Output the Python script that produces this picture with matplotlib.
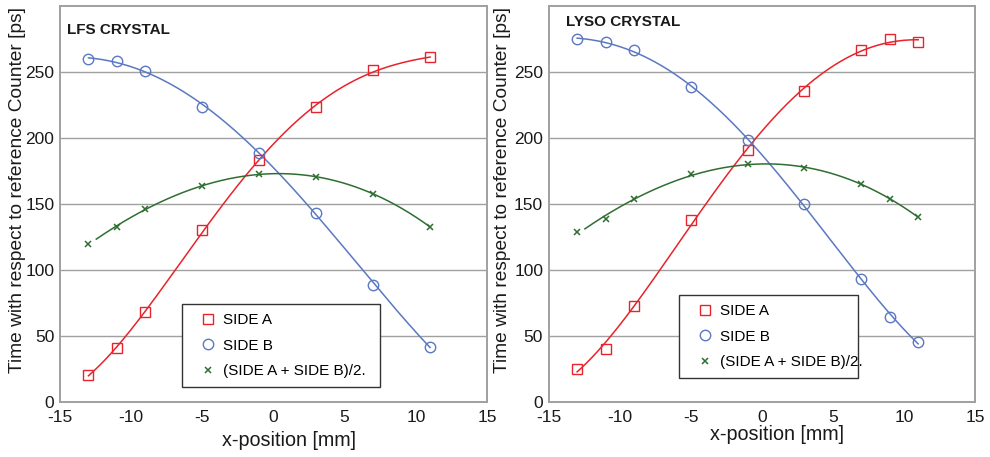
import numpy as np
import matplotlib
matplotlib.use("Agg")
import matplotlib.pyplot as plt
from matplotlib.lines import Line2D

plt.rcParams['font.family'] = ['Liberation Sans', 'DejaVu Sans']
plt.rcParams['axes.unicode_minus'] = False

# Measured arrival times [ps] versus beam position [mm]
lfs_x = [-13, -11, -9, -5, -1, 3, 7, 11]
lfs_side_a = [20.5, 41, 68.5, 130, 183.5, 223.7, 251.2, 261]
lfs_side_b = [260, 258, 251, 223.2, 189, 143.4, 89, 41.7]
lfs_mean = [119.7, 132.8, 146, 163.9, 172.7, 170.7, 157.3, 132.8]

lyso_x = [-13, -11, -9, -5, -1, 3, 7, 9, 11]
lyso_side_a = [25.3, 40.4, 73, 137.9, 190.9, 235.4, 266.7, 275.2, 272.7]
lyso_side_b = [275.2, 272.5, 266.4, 238.4, 198.5, 150, 93.4, 64.6, 45.2]
lyso_mean = [128.8, 138.4, 153.8, 172.7, 180.3, 177, 165.2, 153.5, 140.4]

x_ticks = [-15, -10, -5, 0, 5, 10, 15]
y_ticks = [0, 50, 100, 150, 200, 250]

RED = '#e8232b'
BLUE = '#5b78c2'
GREEN = '#2f6e31'
SPINE = '#a0a0a0'

W, H = 990, 457
fig = plt.figure(figsize=(W / 100, H / 100), dpi=100)


def add_panel(left_px, width_px, x, a, b, m, title, title_xy, legend_box,
              xlabel_y, ylabel_x):
    ax = fig.add_axes([left_px / W, (H - 402) / H, width_px / W, 396 / H])
    ax.set_xlim(-15, 15)
    ax.set_ylim(0, 300)
    ax.set_xticks(x_ticks)
    ax.set_yticks(y_ticks)
    ax.tick_params(length=0, labelsize=12.5, colors='#1a1a1a')
    ax.tick_params(axis='x', pad=6)
    ax.tick_params(axis='y', pad=4)
    for s in ax.spines.values():
        s.set_color(SPINE)
        s.set_linewidth(1.4)
    for yv in y_ticks[1:]:
        ax.axhline(yv, color=SPINE, lw=1.0, zorder=0)

    # polynomial fits through each measured series
    x = np.asarray(x, float)
    xs = np.linspace(x.min(), x.max(), 300)
    xm = np.linspace(-12.45, x.max(), 300)
    for vals, xx, col, deg in ((a, xs, RED, 4), (b, xs, BLUE, 4), (m, xm, GREEN, 3)):
        coef = np.polyfit(x, vals, deg)
        ax.plot(xx, np.polyval(coef, xx), color=col, lw=1.1, zorder=2)

    ax.plot(x, a, ls='none', marker='s', ms=6.5, mfc='none', mec=RED, mew=1.0, zorder=3)
    ax.plot(x, b, ls='none', marker='o', ms=7.5, mfc='none', mec=BLUE, mew=1.0, zorder=3)
    ax.plot(x, m, ls='none', marker='x', ms=4.5, mec=GREEN, mew=1.1, zorder=3)

    fig.text(title_xy[0] / W, 1 - title_xy[1] / H, title,
             fontsize=11, fontweight='bold', color='#1a1a1a', ha='left', va='center')

    fig.text((left_px + width_px / 2 + 15) / W, 1 - xlabel_y / H, 'x-position [mm]',
             fontsize=14.2, ha='center', va='center', color='#1a1a1a')
    fig.text(ylabel_x / W, 1 - 190 / H,
             'Time with respect to reference Counter [ps]', rotation=90,
             fontsize=13.8, ha='center', va='center', color='#1a1a1a')

    handles = [
        Line2D([], [], ls='none', marker='s', ms=6.5, mfc='none', mec=RED, mew=1.0),
        Line2D([], [], ls='none', marker='o', ms=7.5, mfc='none', mec=BLUE, mew=1.0),
        Line2D([], [], ls='none', marker='x', ms=4.5, mec=GREEN, mew=1.1),
    ]
    labels = ['SIDE A', 'SIDE B', '(SIDE A + SIDE B)/2.']
    x0, y0, x1, y1 = legend_box
    leg = ax.legend(handles, labels, loc='upper left',
                    bbox_to_anchor=(x0 / W, 1 - y1 / H, (x1 - x0) / W, (y1 - y0) / H),
                    bbox_transform=fig.transFigure, mode='expand',
                    fontsize=11, frameon=True, fancybox=False, borderpad=0.6,
                    labelspacing=0.75, handletextpad=-0.12, handlelength=2.2,
                    borderaxespad=0)
    fr = leg.get_frame()
    fr.set_edgecolor('#333333')
    fr.set_linewidth(1.0)
    fr.set_alpha(1)
    return ax


add_panel(60, 427, lfs_x, lfs_side_a, lfs_side_b, lfs_mean,
          'LFS CRYSTAL', (67, 30), (182, 304, 380, 392), 441, 17.5)
add_panel(548.7, 426.3, lyso_x, lyso_side_a, lyso_side_b, lyso_mean,
          'LYSO CRYSTAL', (566, 22), (679, 295, 858, 382), 434, 502)

fig.savefig('out.png', dpi=100)
